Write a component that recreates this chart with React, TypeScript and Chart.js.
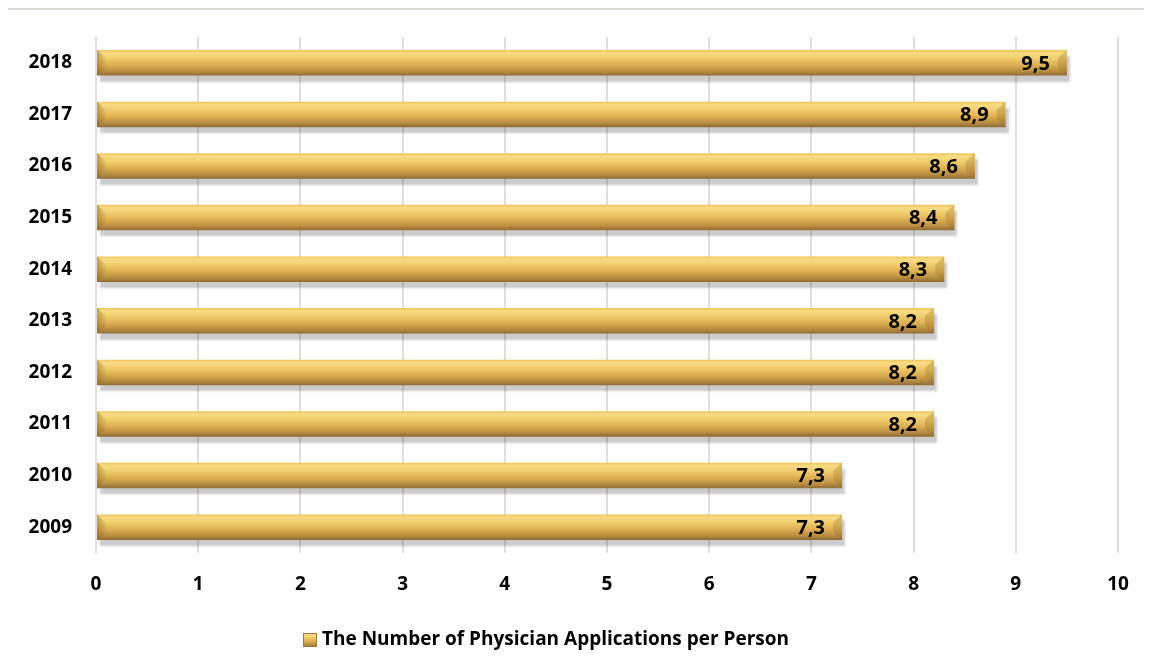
import React, { useEffect, useRef } from "react";
import { Chart, registerables } from "chart.js";

Chart.register(...registerables);

const years = ["2009", "2010", "2011", "2012", "2013", "2014", "2015", "2016", "2017", "2018"];
const applicationsPerPerson = [7.3, 7.3, 8.2, 8.2, 8.2, 8.3, 8.4, 8.6, 8.9, 9.5];
const seriesLabel = "The Number of Physician Applications per Person";
const xTicks = [0, 1, 2, 3, 4, 5, 6, 7, 8, 9, 10];

const FONT = "'Open Sans', 'Noto Sans', sans-serif";

function goldGradient(ctx: CanvasRenderingContext2D, top: number, bottom: number) {
  const g = ctx.createLinearGradient(0, top, 0, bottom);
  g.addColorStop(0, "#eec35c");
  g.addColorStop(0.12, "#f8dc82");
  g.addColorStop(0.3, "#f2cf70");
  g.addColorStop(0.6, "#ddad50");
  g.addColorStop(0.85, "#b48a40");
  g.addColorStop(1, "#8c6b34");
  return g;
}

const barDecor = {
  id: "barDecor",
  beforeDatasetsDraw(chart: any) {
    const ctx = chart.ctx;
    ctx.save();
    ctx.shadowColor = "rgba(0,0,0,0.2)";
    ctx.shadowBlur = 2;
    ctx.shadowOffsetX = 3;
    ctx.shadowOffsetY = 6;
  },
  afterDatasetsDraw(chart: any) {
    const ctx = chart.ctx;
    ctx.restore();
    const meta = chart.getDatasetMeta(0);
    const data = chart.data.datasets[0].data as number[];
    meta.data.forEach((el: any, i: number) => {
      const { x, y, base, height } = el.getProps(["x", "y", "base", "height"], true);
      const top = y - height / 2;
      const bot = y + height / 2;
      ctx.save();
      // left bevel
      ctx.beginPath();
      ctx.moveTo(base, top);
      ctx.lineTo(base + 10, top + 9);
      ctx.lineTo(base + 10, bot - 9);
      ctx.lineTo(base, bot);
      ctx.closePath();
      const g = ctx.createLinearGradient(base, 0, base + 10, 0);
      g.addColorStop(0, "rgba(140,100,35,0.5)");
      g.addColorStop(1, "rgba(140,100,35,0.0)");
      ctx.fillStyle = g;
      ctx.fill();
      // right bevel
      ctx.beginPath();
      ctx.moveTo(x, top);
      ctx.lineTo(x - 9, top + 8);
      ctx.lineTo(x - 9, bot - 8);
      ctx.lineTo(x, bot);
      ctx.closePath();
      ctx.fillStyle = "rgba(150,110,40,0.3)";
      ctx.fill();
      ctx.restore();

      ctx.save();
      ctx.font = `bold 20px ${FONT}`;
      ctx.fillStyle = "#000";
      ctx.textAlign = "right";
      ctx.textBaseline = "middle";
      ctx.fillText(data[i].toFixed(1).replace(".", ","), x - 17, y + 1);
      ctx.restore();
    });
  },
  afterDraw(chart: any) {
    const ctx = chart.ctx;
    ctx.save();
    const bx = 303;
    const by = 633;
    ctx.fillStyle = goldGradient(ctx, by, by + 14);
    ctx.fillRect(bx, by, 14, 14);
    ctx.strokeStyle = "#9c7a3a";
    ctx.lineWidth = 1;
    ctx.strokeRect(bx + 0.5, by + 0.5, 13, 13);
    ctx.font = `bold 19px ${FONT}`;
    ctx.fillStyle = "#000";
    ctx.textAlign = "left";
    ctx.textBaseline = "middle";
    ctx.fillText(seriesLabel, 322, 640);
    ctx.restore();
  },
};

export default function App() {
  const ref = useRef<HTMLCanvasElement>(null);

  useEffect(() => {
    const canvas = ref.current!;
    const chart = new Chart(canvas, {
      type: "bar",
      data: {
        labels: years,
        datasets: [
          {
            label: seriesLabel,
            data: applicationsPerPerson,
            barPercentage: 0.55,
            categoryPercentage: 0.9,
            borderWidth: 0,
            backgroundColor: (c: any) => {
              const solid = "#d6aa50";
              if (c.type !== "data") return solid;
              const ch = c.chart;
              const ys = ch.scales?.y;
              if (!ys || !ch.chartArea) return solid;
              const center = ys.getPixelForValue(c.dataIndex);
              const half = (ys.height / years.length) * 0.55 * 0.9 * 0.5;
              return goldGradient(ch.ctx, center - half, center + half);
            },
          },
        ],
      },
      options: {
        indexAxis: "y",
        responsive: false,
        animation: false,
        devicePixelRatio: 1,
        layout: { padding: { top: 37, right: 34, left: 8, bottom: 59 } },
        scales: {
          x: {
            min: 0,
            max: 10,
            afterBuildTicks: (s: any) => {
              s.ticks = xTicks.map((v) => ({ value: v }));
            },
            afterFit: (s: any) => {
              s.height = 60;
            },
            grid: { color: "#e2dfd8", lineWidth: 2, drawTicks: false },
            border: { display: false },
            ticks: {
              padding: 20,
              color: "#000",
              font: { family: FONT, size: 19, weight: "bold" },
            },
          },
          y: {
            reverse: true,
            afterFit: (s: any) => {
              s.width = 88;
            },
            grid: { display: false, drawTicks: false },
            border: { display: false },
            ticks: {
              padding: 24,
              color: "#000",
              font: { family: FONT, size: 19, weight: "bold" },
            },
          },
        },
        plugins: {
          legend: { display: false },
          tooltip: { enabled: false },
        },
      },
      plugins: [barDecor],
    } as any);
    return () => chart.destroy();
  }, []);

  return (
    <div style={{ position: "relative", width: 1152, height: 672, margin: -8, overflow: "hidden", background: "#fff" }}>
      <div
        style={{
          position: "absolute",
          left: 3,
          top: 8,
          width: 1170,
          height: 700,
          border: "2px solid #dedcd2",
          boxSizing: "border-box",
        }}
      />
      <canvas ref={ref} width={1152} height={672} style={{ position: "absolute", left: 0, top: 0 }} />
    </div>
  );
}
